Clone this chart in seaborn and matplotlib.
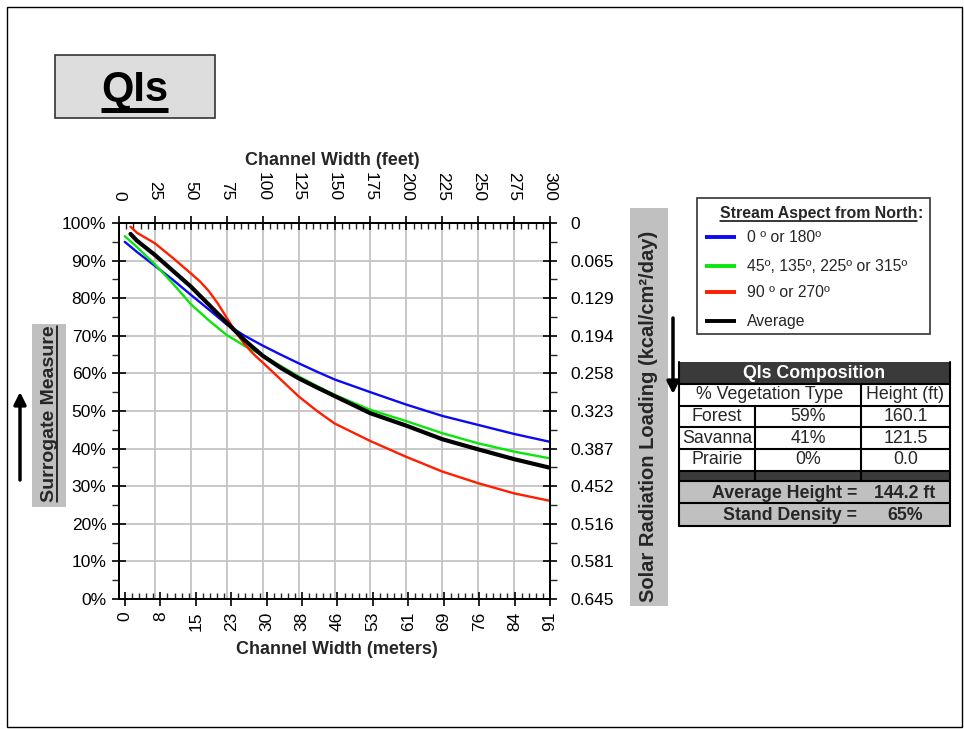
import matplotlib
matplotlib.use("Agg")
import matplotlib.pyplot as plt
import seaborn as sns
from matplotlib.patches import Rectangle
from matplotlib.lines import Line2D
from matplotlib.ticker import FixedLocator, MultipleLocator

# ---------------- data ----------------
# surrogate measure (%) against channel width (feet) for each stream aspect
blue_ft = [4, 12.5, 25, 37.5, 50, 62.5, 75, 87.5, 100, 112.5, 125, 137.5, 150, 175, 200, 225, 250, 275, 300]
blue_pct = [95.0, 92.3, 88.6, 84.9, 80.9, 77.0, 73.0, 70.0, 67.4, 65.0, 62.7, 60.5, 58.4, 55.0, 51.7, 48.7, 46.3, 43.9, 41.8]

green_ft = [4, 12.5, 25, 37.5, 50, 62.5, 75, 87.5, 100, 112.5, 125, 137.5, 150, 175, 200, 225, 250, 275, 300]
green_pct = [96.5, 93.6, 89.0, 83.9, 78.4, 74.1, 70.2, 67.3, 64.8, 62.0, 59.2, 56.7, 54.3, 50.3, 47.3, 44.1, 41.4, 39.2, 37.4]

red_ft = [8, 12.5, 25, 37.5, 50, 56.25, 62.5, 68.75, 75, 81.25, 87.5, 93.75, 100, 112.5, 125, 137.5, 150, 175, 200, 225, 250, 275, 300]
red_pct = [99.0, 97.4, 94.6, 90.7, 86.6, 84.5, 81.9, 78.6, 74.8, 71.0, 67.7, 65.1, 62.9, 58.4, 53.9, 50.1, 46.7, 42.0, 37.8, 33.9, 30.8, 28.1, 26.1]

avg_ft = [8, 12.5, 25, 37.5, 50, 62.5, 75, 87.5, 100, 112.5, 125, 137.5, 150, 175, 200, 225, 250, 275, 300]
avg_pct = [97.1, 95.3, 91.5, 87.3, 83.1, 78.3, 73.5, 68.8, 64.7, 61.5, 58.7, 56.3, 54.0, 49.4, 46.1, 42.5, 39.8, 37.2, 34.9]

series_names = ["0 º or 180º", "45º, 135º, 225º or 315º", "90 º or 270º", "Average"]
series_colors = ["#0A0AF5", "#0AE60A", "#FF1E00", "#000000"]

# axis ticks
feet_ticks = [0, 25, 50, 75, 100, 125, 150, 175, 200, 225, 250, 275, 300]
meter_ticks = [0, 7.62, 15.24, 22.86, 30.48, 38.1, 45.72, 53.34, 60.96, 68.58, 76.2, 83.82, 91.44]
meter_labels = ["0", "8", "15", "23", "30", "38", "46", "53", "61", "69", "76", "84", "91"]
pct_ticks = [0, 10, 20, 30, 40, 50, 60, 70, 80, 90, 100]
pct_labels = ["0%", "10%", "20%", "30%", "40%", "50%", "60%", "70%", "80%", "90%", "100%"]
solar_ticks = [0, 0.0645, 0.129, 0.1935, 0.258, 0.3225, 0.387, 0.4515, 0.516, 0.5805, 0.645]
solar_labels = ["0", "0.065", "0.129", "0.194", "0.258", "0.323", "0.387", "0.452", "0.516", "0.581", "0.645"]

# composition table
veg_types = ["Forest", "Savanna", "Prairie"]
veg_share = ["59%", "41%", "0%"]
veg_height = ["160.1", "121.5", "0.0"]
avg_height = "144.2 ft"
stand_density = "65%"

# ---------------- style ----------------
sns.set_theme(style="white")
plt.rcParams["font.family"] = ["Liberation Sans", "DejaVu Sans"]
plt.rcParams["axes.edgecolor"] = "black"
plt.rcParams["axes.linewidth"] = 1.3

W, H = 964, 729
fig = plt.figure(figsize=(W / 100, H / 100), dpi=100)
fig.patch.set_facecolor("white")

L, R, T, B = 119, 550, 223, 599
ax = fig.add_axes([L / W, 1 - B / H, (R - L) / W, (B - T) / H])
ax_m = ax.twiny()   # meters along the bottom
ax_r = ax.twinx()   # solar radiation on the right

TICK_FS = 12.5
TABLE_FS = 12.8

# curves
for xs, ys, col, lw in [(blue_ft, blue_pct, series_colors[0], 1.7),
                        (green_ft, green_pct, series_colors[1], 1.7),
                        (red_ft, red_pct, series_colors[2], 1.7),
                        (avg_ft, avg_pct, series_colors[3], 3.0)]:
    sns.lineplot(x=xs, y=ys, ax=ax, color=col, linewidth=lw, estimator=None, sort=False)

ax.set_xlabel("")
ax.set_ylabel("")
ax.set_xlim(0, 300)
ax.set_ylim(0, 100)

# feet axis on top, grid from its ticks
ax.xaxis.set_ticks_position("top")
ax.xaxis.set_major_locator(FixedLocator(feet_ticks))
ax.xaxis.set_minor_locator(MultipleLocator(5))
ax.set_xticklabels([str(v) for v in feet_ticks])
ax.tick_params(axis="x", which="major", direction="inout", length=10, width=1.2,
               top=True, bottom=False, labeltop=True, labelbottom=False,
               labelrotation=270, labelsize=TICK_FS, pad=11, colors="black")
ax.tick_params(axis="x", which="minor", direction="in", length=4, width=1.0,
               top=True, bottom=False)

# percent axis on the left
ax.yaxis.set_ticks_position("left")
ax.yaxis.set_major_locator(FixedLocator(pct_ticks))
ax.yaxis.set_minor_locator(MultipleLocator(5))
ax.set_yticklabels(pct_labels)
ax.tick_params(axis="y", which="major", direction="inout", length=10, width=1.2,
               left=True, right=False, labelsize=TICK_FS, pad=4, colors="black")
ax.tick_params(axis="y", which="minor", direction="out", length=5, width=1.0,
               left=True, right=False)
ax.grid(True, which="major", color="#C4C4C4", linewidth=1.3)
ax.set_axisbelow(True)

# meters axis along the bottom
ax_m.set_xlim(-1.29, 91.44)
ax_m.xaxis.set_ticks_position("bottom")
ax_m.xaxis.set_major_locator(FixedLocator(meter_ticks))
ax_m.xaxis.set_minor_locator(MultipleLocator(1.524))
ax_m.set_xticklabels(meter_labels)
ax_m.tick_params(axis="x", which="major", direction="inout", length=10, width=1.2,
                 bottom=True, top=False, labelbottom=True, labeltop=False,
                 labelrotation=90, labelsize=TICK_FS, pad=4, colors="black")
ax_m.tick_params(axis="x", which="minor", direction="in", length=4, width=1.0,
                 bottom=True, top=False)

# solar radiation axis on the right (inverted)
ax_r.set_ylim(0.645, 0)
ax_r.yaxis.set_major_locator(FixedLocator(solar_ticks))
ax_r.yaxis.set_minor_locator(FixedLocator([v + 0.03225 for v in solar_ticks[:-1]]))
ax_r.set_yticklabels(solar_labels)
ax_r.tick_params(axis="y", which="major", direction="inout", length=10, width=1.2,
                 right=True, left=False, labelsize=TICK_FS, pad=10, colors="black")
ax_r.tick_params(axis="y", which="minor", direction="out", length=5, width=1.0,
                 right=True, left=False)

for a in (ax, ax_m, ax_r):
    for s in a.spines.values():
        s.set_color("black")
        s.set_linewidth(1.3)

# ---------------- decorations in pixel coordinates ----------------
ov = fig.add_axes([0, 0, 1, 1], zorder=5)
ov.set_xlim(0, W)
ov.set_ylim(H, 0)
ov.axis("off")
ov.patch.set_alpha(0)

ov.add_patch(Rectangle((7, 7), 955, 720, fill=False, ec="black", lw=1.0))

# title box
ov.add_patch(Rectangle((55, 55), 160, 63, fc="#DDDDDD", ec="#333333", lw=1.2))
title_txt = ov.text(134.5, 101, "QIs", fontsize=30, fontweight="bold",
                    ha="center", va="baseline", color="black")

# axis titles
ov.text(332, 165, "Channel Width (feet)", fontsize=13, fontweight="bold",
        ha="center", va="baseline")
ov.text(337, 654, "Channel Width (meters)", fontsize=13, fontweight="bold",
        ha="center", va="baseline")

# left axis label box with arrow
ov.add_patch(Rectangle((32, 324), 34, 183, fc="#C0C0C0", ec="none"))
surr_txt = ov.text(54.5, 414, "Surrogate Measure", fontsize=14, fontweight="bold",
                   rotation=90, rotation_mode="anchor", ha="center", va="baseline")
ov.annotate("", xy=(20, 392), xytext=(20, 480),
            arrowprops=dict(arrowstyle="-|>", color="black", lw=2.5,
                            mutation_scale=18, shrinkA=0, shrinkB=0))

# right axis label box with arrow
ov.add_patch(Rectangle((630, 208), 38, 398, fc="#C0C0C0", ec="none"))
ov.text(649, 416, "Solar Radiation Loading (kcal/cm²/day)", fontsize=14.5,
        fontweight="bold", rotation=90, rotation_mode="anchor",
        ha="center", va="center")
ov.annotate("", xy=(673, 394), xytext=(673, 318),
            arrowprops=dict(arrowstyle="-|>", color="black", lw=2.5,
                            mutation_scale=18, shrinkA=0, shrinkB=0))

# legend
ov.add_patch(Rectangle((697, 198), 233, 136, fc="white", ec="#333333", lw=1.2))
leg_title = ov.text(720, 218, "Stream Aspect from North", fontsize=11.4,
                    fontweight="bold", ha="left", va="baseline")
leg_rows = [237, 266, 292, 321]
for name, col, yy in zip(series_names, series_colors, leg_rows):
    ov.add_line(Line2D([705, 736], [yy, yy], color=col, lw=2.8, solid_capstyle="butt"))
    ov.text(747, yy, name, fontsize=11.3, ha="left", va="center")

# composition table
tx0, tc1, tc2, tx1 = 679, 755, 861, 950
ov.add_patch(Rectangle((tx0, 362), tx1 - tx0, 22, fc="#3A3A3A", ec="none"))
ov.text((tx0 + tx1) / 2, 373, "QIs Composition", fontsize=TABLE_FS, fontweight="bold",
        color="white", ha="center", va="center")
row_edges = [384, 405.5, 427, 449, 470.5]
ov.text((tx0 + tc2) / 2, (row_edges[0] + row_edges[1]) / 2, "% Vegetation Type",
        fontsize=TABLE_FS, ha="center", va="center")
ov.text((tc2 + tx1) / 2, (row_edges[0] + row_edges[1]) / 2, "Height (ft)",
        fontsize=TABLE_FS, ha="center", va="center")
for i, (vt, vs, vh) in enumerate(zip(veg_types, veg_share, veg_height)):
    yc = (row_edges[i + 1] + row_edges[i + 2]) / 2
    ov.text((tx0 + tc1) / 2, yc, vt, fontsize=TABLE_FS, ha="center", va="center")
    ov.text((tc1 + tc2) / 2, yc, vs, fontsize=TABLE_FS, ha="center", va="center")
    ov.text((tc2 + tx1) / 2, yc, vh, fontsize=TABLE_FS, ha="center", va="center")
ov.add_patch(Rectangle((tx0, 470.5), tx1 - tx0, 10, fc="#3A3A3A", ec="none"))
ov.add_patch(Rectangle((tx0, 480.5), tx1 - tx0, 45, fc="#C0C0C0", ec="none"))
ov.text(857, 493, "Average Height =", fontsize=TABLE_FS, fontweight="bold",
        ha="right", va="center")
ov.text(905, 493, avg_height, fontsize=TABLE_FS, fontweight="bold", ha="center", va="center")
ov.text(857, 515, "Stand Density =", fontsize=TABLE_FS, fontweight="bold",
        ha="right", va="center")
ov.text(905, 515, stand_density, fontsize=TABLE_FS, fontweight="bold", ha="center", va="center")

grid_kw = dict(color="black", lw=1.5)
for yy in row_edges + [480.5, 503, 525.5]:
    ov.add_line(Line2D([tx0, tx1], [yy, yy], **grid_kw))
ov.add_line(Line2D([tx0, tx0], [362, 525.5], **grid_kw))
ov.add_line(Line2D([tx1, tx1], [362, 525.5], **grid_kw))
ov.add_line(Line2D([tc1, tc1], [405.5, 480.5], **grid_kw))
ov.add_line(Line2D([tc2, tc2], [384, 480.5], **grid_kw))

# underlines measured from the rendered text
fig.canvas.draw()
rend = fig.canvas.get_renderer()


def hspan(t):
    bb = t.get_window_extent(rend)
    return bb.x0, bb.x1


def vspan(t):
    bb = t.get_window_extent(rend)
    return H - bb.y1, H - bb.y0


x0, x1 = hspan(title_txt)
ov.add_line(Line2D([x0, x1], [109.5, 109.5], color="black", lw=3.6, solid_capstyle="butt"))

x0, x1 = hspan(leg_title)
ov.add_line(Line2D([x0, x1], [220.5, 220.5], color="black", lw=1.1))
ov.text(x1, 218, ":", fontsize=11.4, fontweight="bold", ha="left", va="baseline")

y0, y1 = vspan(surr_txt)
ov.add_line(Line2D([57, 57], [y0, y1], color="black", lw=1.1))

fig.savefig("out.png", dpi=100, facecolor="white")
